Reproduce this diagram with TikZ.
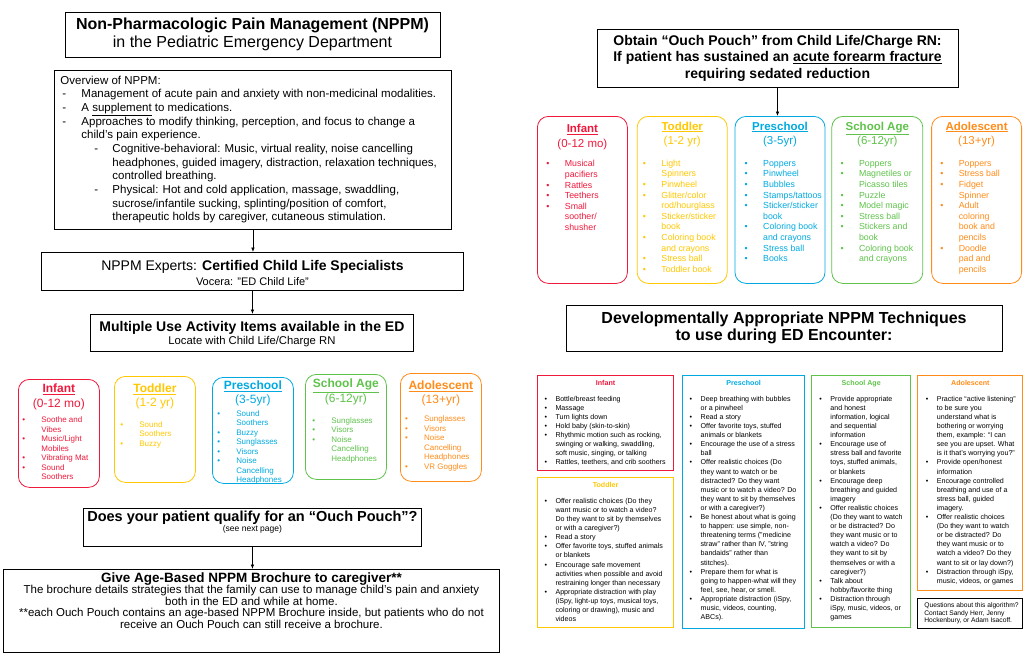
\documentclass[tikz,border=0pt]{standalone}
\usepackage{fontspec}
\setmainfont{Liberation Sans}
\usetikzlibrary{arrows.meta, positioning}

\definecolor{infc}{RGB}{240,25,60}
\definecolor{todc}{RGB}{255,200,0}
\definecolor{prec}{RGB}{0,170,225}
\definecolor{schc}{RGB}{95,195,75}
\definecolor{adoc}{RGB}{255,140,25}

\newlength{\bulw}
\newlength{\boxw}
% one hanging list entry: mark at #1, text at #2
\newcommand{\hangitem}[3]{\par\hangindent=#2\hangafter=1\noindent\makebox[#2][l]{\hspace{#1}#3}}
\newcommand{\bul}{\hangitem{0pt}{\bulw}{\textbullet}}
% fixed size box content: width, height, left margin, text
\newcommand{\cellbox}[4]{\setlength{\boxw}{#1}\makebox[#1][l]{\parbox[c][#2][t]{\dimexpr#1+40pt\relax}{\leftskip=#3\rightskip=0pt plus 1fil\relax #4}}}
\newcommand{\ctitle}[1]{\hbox to \boxw{\hss#1\hss}}

\begin{document}
\begin{tikzpicture}[x=1pt,y=-1pt,
  flowbox/.style={draw, line width=0.9pt, inner sep=0pt},
  itembox/.style={draw=#1, text=#1, rounded corners=11pt, line width=0.8pt, inner sep=0pt, anchor=north west},
  smallitems/.style={itembox=#1, font=\fontsize{8}{9.5}\selectfont, execute at begin node={\setlength{\bulw}{19pt}}},
  bigitems/.style={itembox=#1, font=\fontsize{8.8}{10.6}\selectfont, execute at begin node={\setlength{\bulw}{18.5pt}}},
  techbox/.style={draw=#1, line width=1.1pt, inner sep=0pt, anchor=north west, font=\fontsize{7.1}{9.1}\selectfont, execute at begin node={\setlength{\bulw}{11pt}}},
  flow/.style={-{Latex[length=4.5pt,width=3.6pt]}, line width=0.7pt}]
\fill[white] (0,0) rectangle (1029,657);
\useasboundingbox (0,0) rectangle (1029,657);

% left column
\node[flowbox, minimum width=375pt, minimum height=45pt, align=center, font=\fontsize{16}{17.6}\selectfont] (title) at (252.5,34.5) {\textbf{Non-Pharmacologic Pain Management (NPPM)}\\in the Pediatric Emergency Department};

\node[flowbox, anchor=north west] (over) at (54,70) {\cellbox{397pt}{159pt}{0pt}{\fontsize{11.5}{13.67}\selectfont\vspace*{5.3pt}%
  \noindent\hspace*{6pt}Overview of NPPM:
  \hangitem{8pt}{27pt}{-}Management of acute pain and anxiety with non-medicinal modalities.
  \hangitem{8pt}{27pt}{-}A \underline{supplement} to medications.
  \hangitem{8pt}{27pt}{-}Approaches to modify thinking, perception, and focus to change a\\child’s pain experience.
  \hangitem{40pt}{58pt}{-}Cognitive-behavioral: Music, virtual reality, noise cancelling\\headphones, guided imagery, distraction, relaxation techniques,\\controlled breathing.
  \hangitem{40pt}{58pt}{-}Physical: Hot and cold application, massage, swaddling,\\sucrose/infantile sucking, splinting/position of comfort,\\therapeutic holds by caregiver, cutaneous stimulation.}};

\node[flowbox, anchor=north west] (expert) at (41,252) {\cellbox{422pt}{38pt}{0pt}{\vspace*{7.8pt}%
  \fontsize{14}{16}\selectfont\ctitle{NPPM Experts: \textbf{Certified Child Life Specialists}}%
  \fontsize{11}{14.7}\selectfont\ctitle{Vocera: "ED Child Life"}}};

\node[flowbox, anchor=north west] (multi) at (90,314) {\cellbox{323pt}{37pt}{0pt}{\vspace*{6.8pt}%
  \fontsize{14}{16}\selectfont\ctitle{\textbf{Multiple Use Activity Items available in the ED}}%
  \fontsize{11.3}{13.5}\selectfont\ctitle{Locate with Child Life/Charge RN}}};

\node[smallitems=infc] (linf) at (18,379) {\cellbox{81pt}{108pt}{4pt}{\vspace*{4.8pt}%
  \fontsize{12}{14.3}\selectfont\ctitle{\bfseries\underline{Infant}}\ctitle{(0-12 mo)}%
  \fontsize{8}{9.5}\selectfont\vspace{5.9pt}%
  \bul Soothe and\\Vibes \bul Music/Light\\Mobiles \bul Vibrating Mat \bul Sound\\Soothers}};
\node[smallitems=todc] (ltod) at (114,376) {\cellbox{81pt}{106pt}{6pt}{\vspace*{7.2pt}%
  \fontsize{12}{14.3}\selectfont\ctitle{\bfseries\underline{Toddler}}\ctitle{(1-2 yr)}%
  \fontsize{8}{9.5}\selectfont\vspace{11.2pt}%
  \bul Sound\\Soothers \bul Buzzy}};
\node[smallitems=prec] (lpre) at (212,377) {\cellbox{81pt}{106pt}{5pt}{\vspace*{3.5pt}%
  \fontsize{12}{14.3}\selectfont\ctitle{\bfseries\underline{Preschool}}\ctitle{(3-5yr)}%
  \fontsize{8}{9.5}\selectfont\vspace{2.6pt}%
  \bul Sound\\Soothers \bul Buzzy \bul Sunglasses \bul Visors \bul Noise\\Cancelling\\Headphones}};
\node[smallitems=schc] (lsch) at (305,374) {\cellbox{81pt}{105pt}{7pt}{\vspace*{4.8pt}%
  \fontsize{12}{14.3}\selectfont\ctitle{\bfseries\underline{School Age}}\ctitle{(6-12yr)}%
  \fontsize{8}{9.5}\selectfont\vspace{11.3pt}%
  \bul Sunglasses \bul Visors \bul Noise\\Cancelling\\Headphones}};
\node[smallitems=adoc] (lado) at (400,373) {\cellbox{81pt}{108pt}{4.7pt}{\vspace*{7.5pt}%
  \fontsize{12}{14.3}\selectfont\ctitle{\bfseries\underline{Adolescent}}\ctitle{(13+yr)}%
  \fontsize{8}{9.5}\selectfont\vspace{8.3pt}%
  \bul Sunglasses \bul Visors \bul Noise\\Cancelling\\Headphones \bul VR Goggles}};

\node[flowbox, anchor=north west] (ouchq) at (83,508) {\cellbox{338pt}{38pt}{0pt}{\vspace*{3pt}%
  \fontsize{14.5}{16}\selectfont\ctitle{\textbf{Does your patient qualify for an “Ouch Pouch”?}}%
  \fontsize{8.5}{10}\selectfont\ctitle{(see next page)}}};

\node[flowbox, anchor=north west] (broch) at (3,569) {\cellbox{496pt}{83pt}{0pt}{\vspace*{3pt}%
  \fontsize{13.5}{15}\selectfont\ctitle{\textbf{Give Age-Based NPPM Brochure to caregiver**}}%
  \fontsize{11.5}{11.5}\selectfont\ctitle{The brochure details strategies that the family can use to manage child’s pain and anxiety}%
  \ctitle{both in the ED and while at home.}%
  \ctitle{**each Ouch Pouch contains an age-based NPPM Brochure inside, but patients who do not}%
  \ctitle{receive an Ouch Pouch can still receive a brochure.}}};

\draw[flow] (over.south) -- (over.south |- expert.north);
\draw[flow] (expert.south) -- (expert.south |- multi.north);
\draw[flow] (ouchq.south) -- (ouchq.south |- broch.north);

% right column
\node[flowbox, minimum width=361pt, minimum height=58pt, align=center, font=\fontsize{14}{16.5}\selectfont\bfseries] (obtain) at (777.5,58) {Obtain “Ouch Pouch” from Child Life/Charge RN:\\If patient has sustained an \underline{acute forearm fracture}\\requiring sedated reduction};

\node[bigitems=infc] (rinf) at (537,116) {\cellbox{90pt}{167pt}{9pt}{\vspace*{8pt}%
  \fontsize{11.5}{14.3}\selectfont\ctitle{\bfseries\underline{Infant}}\ctitle{(0-12 mo)}%
  \fontsize{8.8}{10.6}\selectfont\vspace{9.3pt}%
  \bul Musical\\pacifiers \bul Rattles \bul Teethers \bul Small\\soother/\\shusher}};
\node[bigitems=todc, right=9pt of rinf] (rtod) {\cellbox{90pt}{167pt}{5.7pt}{\vspace*{5.4pt}%
  \fontsize{11.5}{14.3}\selectfont\ctitle{\bfseries\underline{Toddler}}\ctitle{(1-2 yr)}%
  \fontsize{8.8}{10.6}\selectfont\vspace{11.3pt}%
  \bul Light\\Spinners \bul Pinwheel \bul Glitter/color\\rod/hourglass \bul Sticker/sticker\\book \bul Coloring book\\and crayons \bul Stress ball \bul Toddler book}};
\node[bigitems=prec, right=7pt of rtod] (rpre) {\cellbox{90pt}{167pt}{9.7pt}{\vspace*{5.4pt}%
  \fontsize{11.5}{14.3}\selectfont\ctitle{\bfseries\underline{Preschool}}\ctitle{(3-5yr)}%
  \fontsize{8.8}{10.6}\selectfont\vspace{11.3pt}%
  \bul Poppers \bul Pinwheel \bul Bubbles \bul Stamps/tattoos \bul Sticker/sticker\\book \bul Coloring book\\and crayons \bul Stress ball \bul Books}};
\node[bigitems=schc, right=6pt of rpre] (rsch) {\cellbox{91pt}{167pt}{8.7pt}{\vspace*{5.4pt}%
  \fontsize{11.5}{14.3}\selectfont\ctitle{\bfseries\underline{School Age}}\ctitle{(6-12yr)}%
  \fontsize{8.8}{10.6}\selectfont\vspace{11.3pt}%
  \bul Poppers \bul Magnetiles or\\Picasso tiles \bul Puzzle \bul Model magic \bul Stress ball \bul Stickers and\\book \bul Coloring book\\and crayons}};
\node[bigitems=adoc, right=8pt of rsch] (rado) {\cellbox{90pt}{167pt}{8.7pt}{\vspace*{5.4pt}%
  \fontsize{11.5}{14.3}\selectfont\ctitle{\bfseries\underline{Adolescent}}\ctitle{(13+yr)}%
  \fontsize{8.8}{10.6}\selectfont\vspace{11.3pt}%
  \bul Poppers \bul Stress ball \bul Fidget\\Spinner \bul Adult\\coloring\\book and\\pencils \bul Doodle\\pad and\\pencils}};

\draw[flow] (obtain.south) -- (obtain.south |- rpre.north);

\node[flowbox, minimum width=436pt, minimum height=46pt, align=center, font=\fontsize{16}{17.4}\selectfont\bfseries] (devel) at (784,328) {Developmentally Appropriate NPPM Techniques\\to use during ED Encounter:};

% techniques by age
\node[techbox=infc] (tinf) at (537,375) {\cellbox{136pt}{95pt}{7pt}{\vspace*{4.4pt}%
  \ctitle{\textcolor{infc}{\bfseries Infant}}\vspace{7pt}%
  \bul Bottle/breast feeding \bul Massage \bul Turn lights down \bul Hold baby (skin-to-skin)
  \bul Rhythmic motion such as rocking,\\swinging or walking, swaddling,\\soft music, singing, or talking
  \bul Rattles, teethers, and crib soothers}};
\node[techbox=todc, below=6pt of tinf] (ttod) {\cellbox{136pt}{150pt}{7pt}{\vspace*{4.4pt}%
  \ctitle{\textcolor{todc}{\bfseries Toddler}}\vspace{7pt}%
  \bul Offer realistic choices (Do they\\want music or to watch a video?\\Do they want to sit by themselves\\or with a caregiver?)
  \bul Read a story
  \bul Offer favorite toys, stuffed animals\\or blankets
  \bul Encourage safe movement\\activities when possible and avoid\\restraining longer than necessary
  \bul Appropriate distraction with play\\(iSpy, light-up toys, musical toys,\\coloring or drawing), music and\\videos}};
\node[techbox=prec, right=8pt of tinf.north east, anchor=north west] (tpre) {\cellbox{122pt}{253pt}{7pt}{\vspace*{4.4pt}%
  \ctitle{\textcolor{prec}{\bfseries Preschool}}\vspace{7pt}%
  \bul Deep breathing with bubbles\\or a pinwheel
  \bul Read a story
  \bul Offer favorite toys, stuffed\\animals or blankets
  \bul Encourage the use of a stress\\ball
  \bul Offer realistic choices (Do\\they want to watch or be\\distracted? Do they want\\music or to watch a video? Do\\they want to sit by themselves\\or with a caregiver?)
  \bul Be honest about what is going\\to happen: use simple, non-\\threatening terms ("medicine\\straw" rather than IV, "string\\bandaids" rather than\\stitches).
  \bul Prepare them for what is\\going to happen-what will they\\feel, see, hear, or smell.
  \bul Appropriate distraction (iSpy,\\music, videos, counting,\\ABCs).}};
\node[techbox=schc, right=6pt of tpre.north east, anchor=north west] (tsch) {\cellbox{99pt}{252pt}{7.7pt}{\vspace*{4.4pt}%
  \ctitle{\textcolor{schc}{\bfseries School Age}}\vspace{7pt}%
  \bul Provide appropriate\\and honest\\information, logical\\and sequential\\information
  \bul Encourage use of\\stress ball and favorite\\toys, stuffed animals,\\or blankets
  \bul Encourage deep\\breathing and guided\\imagery
  \bul Offer realistic choices\\(Do they want to watch\\or be distracted? Do\\they want music or to\\watch a video? Do\\they want to sit by\\themselves or with a\\caregiver?)
  \bul Talk about\\hobby/favorite thing
  \bul Distraction through\\iSpy, music, videos, or\\games}};
\node[techbox=adoc, right=6pt of tsch.north east, anchor=north west] (tado) {\cellbox{105pt}{215pt}{8pt}{\vspace*{4.4pt}%
  \ctitle{\textcolor{adoc}{\bfseries Adolescent}}\vspace{7pt}%
  \bul Practice “active listening”\\to be sure you\\understand what is\\bothering or worrying\\them, example: “I can\\see you are upset. What\\is it that’s worrying you?”
  \bul Provide open/honest\\information
  \bul Encourage controlled\\breathing and use of a\\stress ball, guided\\imagery.
  \bul Offer realistic choices\\(Do they want to watch\\or be distracted? Do\\they want music or to\\watch a video? Do they\\want to sit or lay down?)
  \bul Distraction through iSpy,\\music, videos, or games}};
\node[techbox=black, below=7pt of tado] (quest) {\cellbox{105pt}{30pt}{6.5pt}{\fontsize{6.7}{7.8}\selectfont\vspace*{3.8pt}%
  \noindent Questions about this algorithm?\\Contact Sandy Herr, Jenny\\Hockenbury, or Adam Isacoff.}};
\end{tikzpicture}
\end{document}
